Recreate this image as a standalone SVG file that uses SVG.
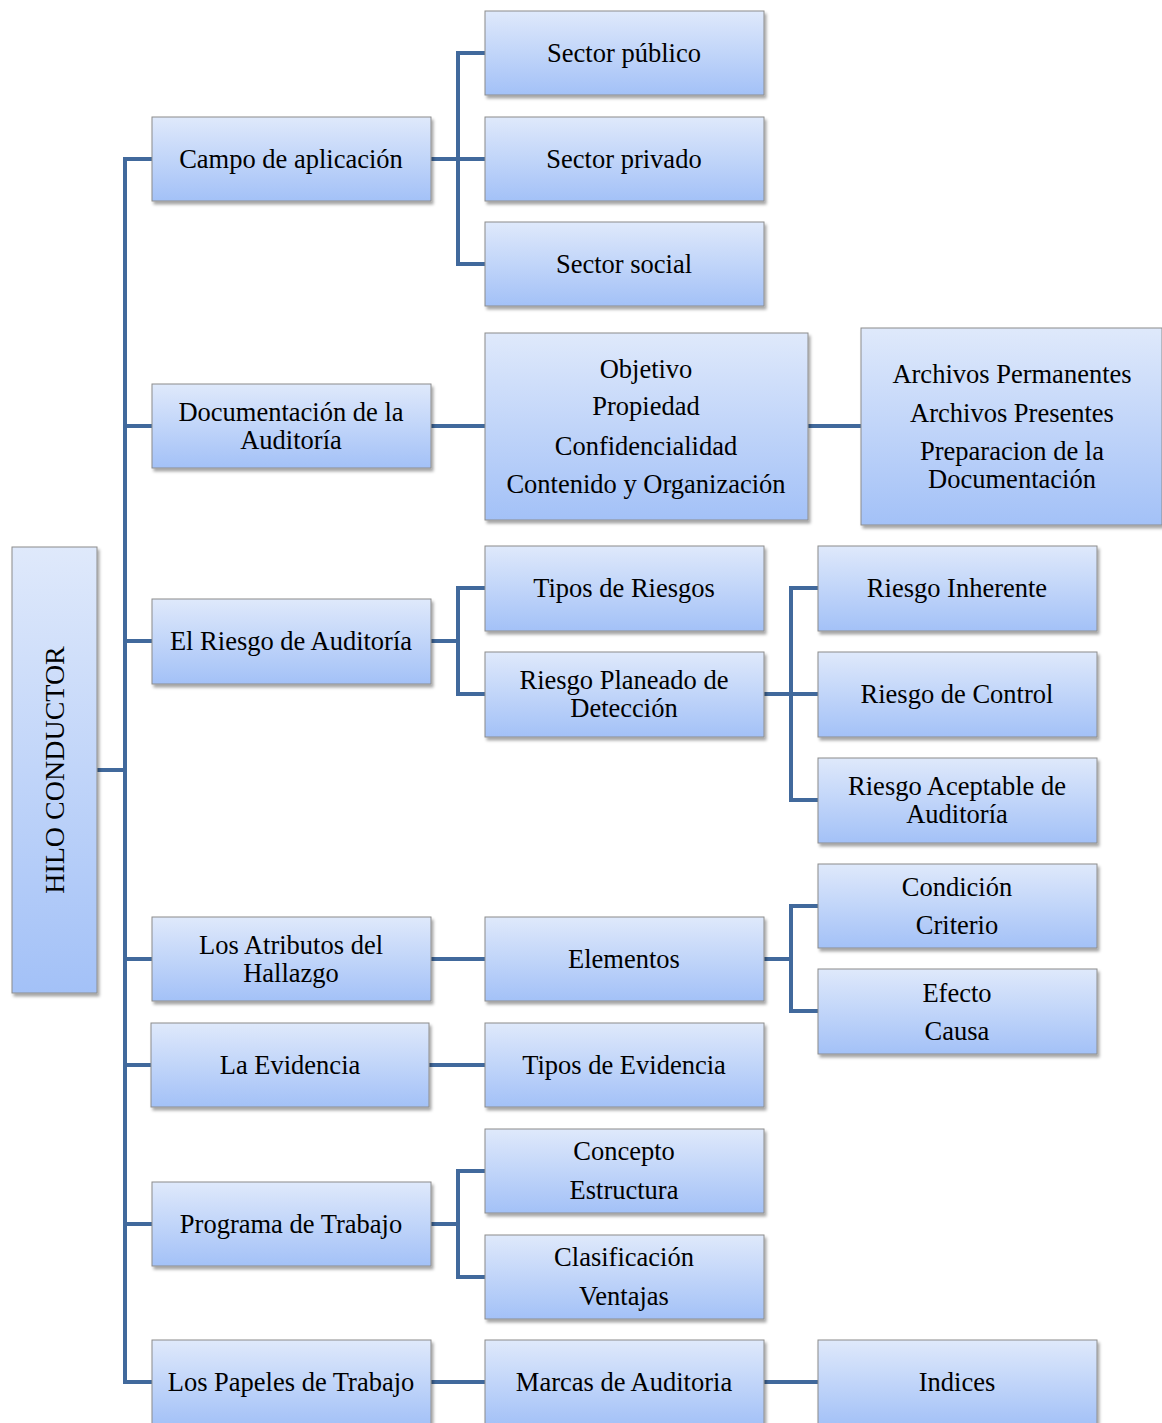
<svg xmlns="http://www.w3.org/2000/svg" width="1162" height="1423" viewBox="0 0 1162 1423">
  <defs>
    <linearGradient id="boxFill" x1="0" y1="0" x2="0" y2="1">
      <stop offset="0" stop-color="#dfe9fb"/>
      <stop offset="1" stop-color="#a3c1f7"/>
    </linearGradient>
    <filter id="shadow" x="-10%" y="-10%" width="125%" height="130%">
      <feDropShadow dx="2" dy="3" stdDeviation="1.8" flood-color="#000" flood-opacity="0.35"/>
    </filter>
  </defs>
  <style>
    .box { fill: url(#boxFill); stroke: #8c8c8c; stroke-width: 1; filter: url(#shadow); }
    .lbl { font-family: "Liberation Serif", "Times New Roman", serif; font-size: 26.5px; fill: #000; text-anchor: middle; }
    .root { font-size: 28px; }
    .wire { fill: none; stroke: #41699c; stroke-width: 4; }
  </style>
  <rect width="1162" height="1423" fill="#fff"/>

  <!-- connectors -->
  <g id="connectors">
    <!-- root to trunk -->
    <path class="wire" d="M97 770 H125"/>
    <!-- trunk and first-level branches -->
    <path class="wire" d="M152 159 H125 V1382 H152"/>
    <path class="wire" d="M125 426 H152 M125 641 H152 M125 959 H152 M125 1065 H151 M125 1224 H152"/>
    <!-- Campo de aplicación -> sectors -->
    <path class="wire" d="M431 159 H485 M485 53 H458 V264 H485"/>
    <!-- Documentación -> contents -> archivos -->
    <path class="wire" d="M431 426 H485 M808 426 H861"/>
    <!-- Riesgo -> tipos / planeado -->
    <path class="wire" d="M431 641 H458 M485 588 H458 V694 H485"/>
    <!-- Riesgo planeado -> three risks -->
    <path class="wire" d="M764 694 H818 M818 588 H791 V800 H818"/>
    <!-- Atributos -> Elementos -> subitems -->
    <path class="wire" d="M431 959 H485 M764 959 H791 M818 906 H791 V1011 H818"/>
    <!-- Evidencia -> tipos -->
    <path class="wire" d="M429 1065 H485"/>
    <!-- Programa -> two boxes -->
    <path class="wire" d="M431 1224 H458 M485 1171 H458 V1277 H485"/>
    <!-- Papeles -> Marcas -> Indices -->
    <path class="wire" d="M431 1382 H485 M764 1382 H818"/>
  </g>

  <g id="hilo-conductor">
    <rect class="box" x="12" y="547" width="85" height="446"/>
    <text class="lbl root" x="64" y="770" transform="rotate(-90 64 770)">HILO CONDUCTOR</text>
  </g>

  <!-- first level -->
  <g id="campo">
    <rect class="box" x="152" y="117" width="279" height="84"/>
    <text class="lbl" x="291" y="168">Campo de aplicación</text>
  </g>
  <g id="documentacion">
    <rect class="box" x="152" y="384" width="279" height="84"/>
    <text class="lbl" x="291" y="421">Documentación de la</text>
    <text class="lbl" x="291" y="449">Auditoría</text>
  </g>
  <g id="riesgo">
    <rect class="box" x="152" y="599" width="279" height="85"/>
    <text class="lbl" x="291" y="650">El Riesgo de Auditoría</text>
  </g>
  <g id="atributos">
    <rect class="box" x="152" y="917" width="279" height="84"/>
    <text class="lbl" x="291" y="954">Los Atributos del</text>
    <text class="lbl" x="291" y="982">Hallazgo</text>
  </g>
  <g id="evidencia">
    <rect class="box" x="151" y="1023" width="278" height="84"/>
    <text class="lbl" x="290" y="1074">La Evidencia</text>
  </g>
  <g id="programa">
    <rect class="box" x="152" y="1182" width="279" height="84"/>
    <text class="lbl" x="291" y="1233">Programa de Trabajo</text>
  </g>
  <g id="papeles">
    <rect class="box" x="152" y="1340" width="279" height="86"/>
    <text class="lbl" x="291" y="1391">Los Papeles de Trabajo</text>
  </g>

  <!-- second level -->
  <g id="sector-publico">
    <rect class="box" x="485" y="11" width="279" height="84"/>
    <text class="lbl" x="624" y="62">Sector público</text>
  </g>
  <g id="sector-privado">
    <rect class="box" x="485" y="117" width="279" height="84"/>
    <text class="lbl" x="624" y="168">Sector privado</text>
  </g>
  <g id="sector-social">
    <rect class="box" x="485" y="222" width="279" height="84"/>
    <text class="lbl" x="624" y="273">Sector social</text>
  </g>
  <g id="doc-contenido">
    <rect class="box" x="485" y="333" width="323" height="187"/>
    <text class="lbl" x="646" y="378">Objetivo</text>
    <text class="lbl" x="646" y="415">Propiedad</text>
    <text class="lbl" x="646" y="455">Confidencialidad</text>
    <text class="lbl" x="646" y="493">Contenido y Organización</text>
  </g>
  <g id="tipos-riesgos">
    <rect class="box" x="485" y="546" width="279" height="85"/>
    <text class="lbl" x="624" y="597">Tipos de Riesgos</text>
  </g>
  <g id="riesgo-planeado">
    <rect class="box" x="485" y="652" width="279" height="85"/>
    <text class="lbl" x="624" y="689">Riesgo Planeado de</text>
    <text class="lbl" x="624" y="717">Detección</text>
  </g>
  <g id="elementos">
    <rect class="box" x="485" y="917" width="279" height="84"/>
    <text class="lbl" x="624" y="968">Elementos</text>
  </g>
  <g id="tipos-evidencia">
    <rect class="box" x="485" y="1023" width="279" height="84"/>
    <text class="lbl" x="624" y="1074">Tipos de Evidencia</text>
  </g>
  <g id="concepto">
    <rect class="box" x="485" y="1129" width="279" height="84"/>
    <text class="lbl" x="624" y="1160">Concepto</text>
    <text class="lbl" x="624" y="1199">Estructura</text>
  </g>
  <g id="clasificacion">
    <rect class="box" x="485" y="1235" width="279" height="84"/>
    <text class="lbl" x="624" y="1266">Clasificación</text>
    <text class="lbl" x="624" y="1305">Ventajas</text>
  </g>
  <g id="marcas">
    <rect class="box" x="485" y="1340" width="279" height="86"/>
    <text class="lbl" x="624" y="1391">Marcas de Auditoria</text>
  </g>

  <!-- third level -->
  <g id="archivos">
    <rect class="box" x="861" y="328" width="301" height="197"/>
    <text class="lbl" x="1012" y="383">Archivos Permanentes</text>
    <text class="lbl" x="1012" y="422">Archivos Presentes</text>
    <text class="lbl" x="1012" y="460">Preparacion de la</text>
    <text class="lbl" x="1012" y="488">Documentación</text>
  </g>
  <g id="riesgo-inherente">
    <rect class="box" x="818" y="546" width="279" height="85"/>
    <text class="lbl" x="957" y="597">Riesgo Inherente</text>
  </g>
  <g id="riesgo-control">
    <rect class="box" x="818" y="652" width="279" height="85"/>
    <text class="lbl" x="957" y="703">Riesgo de Control</text>
  </g>
  <g id="riesgo-aceptable">
    <rect class="box" x="818" y="758" width="279" height="85"/>
    <text class="lbl" x="957" y="795">Riesgo Aceptable de</text>
    <text class="lbl" x="957" y="823">Auditoría</text>
  </g>
  <g id="condicion">
    <rect class="box" x="818" y="864" width="279" height="84"/>
    <text class="lbl" x="957" y="896">Condición</text>
    <text class="lbl" x="957" y="934">Criterio</text>
  </g>
  <g id="efecto">
    <rect class="box" x="818" y="969" width="279" height="85"/>
    <text class="lbl" x="957" y="1002">Efecto</text>
    <text class="lbl" x="957" y="1040">Causa</text>
  </g>
  <g id="indices">
    <rect class="box" x="818" y="1340" width="279" height="86"/>
    <text class="lbl" x="957" y="1391">Indices</text>
  </g>
</svg>
